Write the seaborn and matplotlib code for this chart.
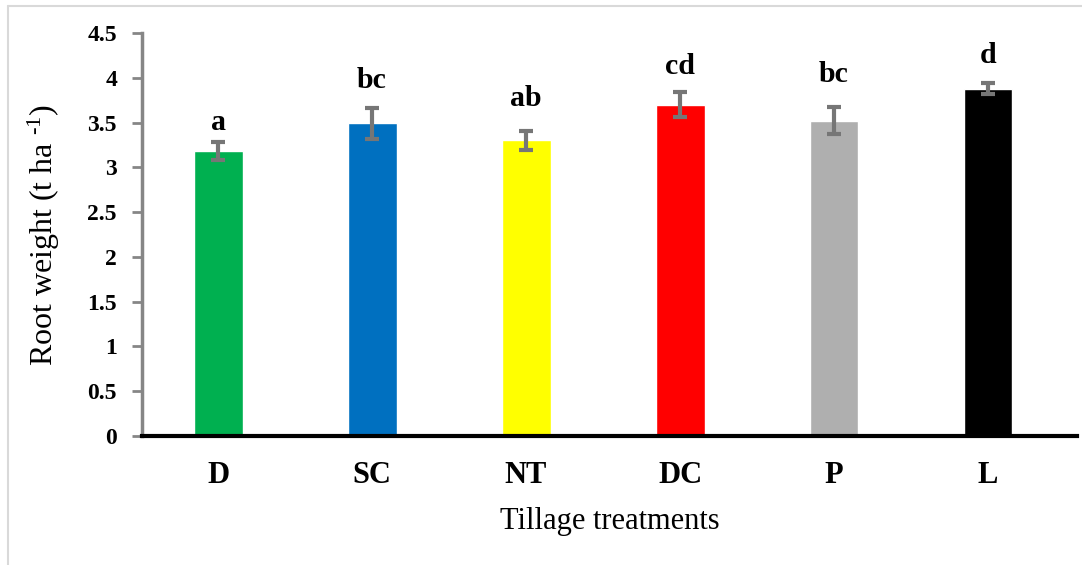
import matplotlib
matplotlib.use("Agg")
import matplotlib.pyplot as plt
from matplotlib.lines import Line2D
import seaborn as sns
import pandas as pd

# Root weight by tillage treatment
treatments = ["D", "SC", "NT", "DC", "P", "L"]
root_weight = [3.18, 3.49, 3.30, 3.70, 3.52, 3.88]
std_err = [0.10, 0.17, 0.11, 0.14, 0.15, 0.06]
letters = ["a", "bc", "ab", "cd", "bc", "d"]
letter_y = [3.42, 3.89, 3.68, 4.04, 3.95, 4.17]
bar_colors = ["#00B050", "#0070C0", "#FFFF00", "#FF0000", "#AFAFAF", "#000000"]
y_ticks = [0, 0.5, 1, 1.5, 2, 2.5, 3, 3.5, 4, 4.5]
y_tick_labels = ["0", "0.5", "1", "1.5", "2", "2.5", "3", "3.5", "4", "4.5"]

sns.set_theme(style="white")
plt.rcParams["font.family"] = ["Liberation Serif", "DejaVu Serif"]
plt.rcParams["mathtext.fontset"] = "custom"
plt.rcParams["mathtext.rm"] = "Liberation Serif"
plt.rcParams["mathtext.it"] = "Liberation Serif:italic"
plt.rcParams["mathtext.bf"] = "Liberation Serif:bold"

df = pd.DataFrame({"treatment": treatments, "weight": root_weight})

W, H = 1082, 565
fig = plt.figure(figsize=(W / 100, H / 100), dpi=100)
ax = fig.add_axes([142 / W, (H - 436) / H, (1077 - 142) / W, (436 - 33) / H])

sns.barplot(data=df, x="treatment", y="weight", hue="treatment",
            palette=dict(zip(treatments, bar_colors)), order=treatments,
            width=0.318, saturation=1, legend=False, errorbar=None, ax=ax)

ax.errorbar(range(len(treatments)), root_weight, yerr=std_err, fmt="none",
            ecolor="#767676", elinewidth=3, capsize=5, capthick=3, zorder=3)

for i, (lab, ly) in enumerate(zip(letters, letter_y)):
    ax.text(i, ly, lab, ha="center", va="baseline", fontsize=21.5,
            fontweight="bold", color="black")

ax.set_xlim(-0.494, 5.578)
ax.set_ylim(0, 4.5)
ax.set_yticks(y_ticks)
ax.set_yticklabels(y_tick_labels, fontsize=17, fontweight="bold")
ax.set_xticks(range(len(treatments)))
ax.set_xticklabels(treatments, fontsize=22, fontweight="bold")

for side in ("top", "right"):
    ax.spines[side].set_visible(False)
ax.spines["left"].set_color("#868686")
ax.spines["left"].set_linewidth(2.5)
ax.spines["bottom"].set_color("black")
ax.spines["bottom"].set_linewidth(3)
ax.spines["bottom"].set_zorder(4)

ax.tick_params(axis="y", direction="out", length=7, width=2, color="#868686",
               pad=11, left=True, labelcolor="black")
ax.tick_params(axis="x", length=0, pad=18, labelcolor="black")

ax.set_xlabel("Tillage treatments", fontsize=22, labelpad=12, color="black")
ax.set_ylabel(r"Root weight (t ha $^{\text{-}1}$)", fontsize=23, labelpad=18,
              color="black")
ax.grid(False)

# thin frame along the top and left edges
fig.add_artist(Line2D([7.5 / W, 1], [1 - 5.5 / H] * 2, color="#D9D9D9", lw=1.5,
                      transform=fig.transFigure))
fig.add_artist(Line2D([7.5 / W] * 2, [0, 1 - 5.5 / H], color="#D9D9D9", lw=1.5,
                      transform=fig.transFigure))

fig.savefig("out.png", dpi=100)
